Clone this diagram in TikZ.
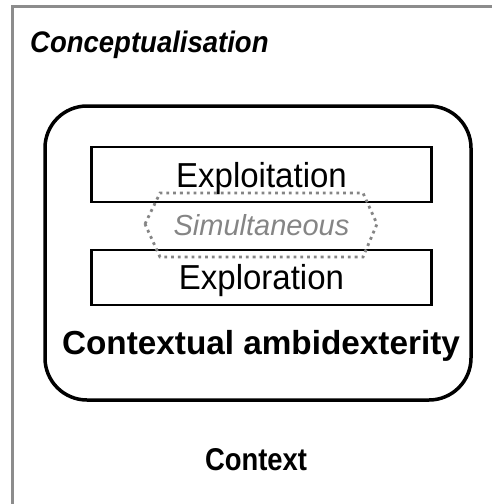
\documentclass[tikz,border=0pt]{standalone}
\usepackage{fontspec}
\setmainfont{Liberation Sans}
\begin{document}
\begin{tikzpicture}[x=1pt,y=-1pt,
  frameline/.style={draw=black!45, line width=3pt},
  outerbox/.style={draw=black, line width=3.5pt, rounded corners=42pt},
  modebox/.style={draw=black, line width=2.5pt},
  dotline/.style={draw=black!48, line width=2.8pt, dash pattern=on 2.8pt off 4pt},
  label/.style={inner sep=0pt, anchor=base}]
  \useasboundingbox (0,0) rectangle (491,504);
  \fill[white] (0,0) rectangle (491,504);
  % gray frame, open towards the right and bottom edges
  \draw[frameline] (12.5,510) -- (12.5,6.5) -- (500,6.5);
  \node[label, font=\bfseries\itshape\fontsize{27.5}{32}\selectfont, anchor=base west] (concept) at (30,52.7) {\scalebox{1}[1.08]{Conceptualisation}};
  % rounded outer box
  \draw[outerbox] (45,106) rectangle (471,400);
  % the two modes
  \draw[modebox] (91.5,147) rectangle (431.5,202);
  \node[label, font=\fontsize{33}{38}\selectfont] (exploit) at (261.5,187.3) {\scalebox{1}[1.05]{Exploitation}};
  \draw[modebox] (91.5,250) rectangle (431.5,305);
  \node[label, font=\fontsize{33}{38}\selectfont] (explore) at (261.5,289.5) {\scalebox{1}[1.05]{Exploration}};
  % simultaneity marker
  \node[label, font=\itshape\fontsize{29}{34}\selectfont, text=black!48] (simul) at (261.5,235) {Simultaneous};
  \draw[dotline] (145,224) -- (160,193) -- (363,193) -- (377,224) -- (363,257) -- (160,257) -- cycle;
  \node[label, font=\bfseries\fontsize{33.3}{38}\selectfont] (ambi) at (261,354) {Contextual ambidexterity};
  \node[label, font=\bfseries\fontsize{27.4}{32}\selectfont] (context) at (256,470) {\scalebox{1}[1.15]{Context}};
\end{tikzpicture}
\end{document}
